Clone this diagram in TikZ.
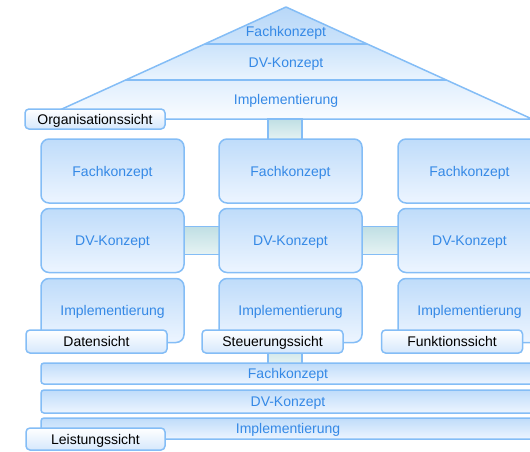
\documentclass[tikz,border=0pt]{standalone}
\usepackage{fontspec}
\setmainfont{Liberation Sans}
\usetikzlibrary{calc}

\definecolor{edge}{HTML}{84BDF6}
\definecolor{ink}{HTML}{3589E6}
\definecolor{boxtop}{HTML}{BFDCFA}
\definecolor{boxbot}{HTML}{EDF5FF}
\definecolor{labelbot}{HTML}{D6E8FC}
\definecolor{linktop}{HTML}{C0DFE4}
\definecolor{linkbot}{HTML}{E6F3F3}
\definecolor{rooftop}{HTML}{B9D8F8}
\definecolor{roofmid}{HTML}{CBE3FB}
\definecolor{roofmidb}{HTML}{EAF4FE}
\definecolor{rooflow}{HTML}{E0EEFD}
\definecolor{rooflowb}{HTML}{F9FCFF}

\tikzset{
  every node/.style={font=\fontsize{14}{16}\selectfont, text height=12pt, text depth=2pt},
  level/.style={draw=edge, line width=1.5pt, rounded corners=8pt,
    top color=boxtop, bottom color=boxbot, minimum width=143pt,
    minimum height=64pt, text=ink, inner sep=0pt},
  band/.style={draw=edge, line width=1.5pt, rounded corners=3pt,
    top color=boxtop, bottom color=boxbot, minimum width=494pt,
    text=ink, inner sep=0pt},
  viewlabel/.style={draw=edge, line width=1.5pt, rounded corners=4pt,
    top color=white, bottom color=labelbot, minimum width=141pt,
    minimum height=21pt, text=black, inner sep=0pt},
  link/.style={draw=edge, line width=1.2pt, top color=linktop, bottom color=linkbot},
  roofline/.style={draw=edge, line width=1.5pt},
  rooftext/.style={text=ink, inner sep=0pt},
  pin/.style={minimum size=0pt, inner sep=0pt, text height=0pt, text depth=0pt},
}

\begin{document}
\begin{tikzpicture}[x=1pt, y=-1pt]
\useasboundingbox (0,0) rectangle (530,452);
\clip (0,0) rectangle (530,452);

% ---- roof: Organisationssicht ----
\coordinate (apex) at (286,7);
\coordinate (bl) at (40,119);
\coordinate (br) at (532,119);
\coordinate (l1) at ($(apex)!0.3304!(bl)$);
\coordinate (r1) at ($(apex)!0.3304!(br)$);
\coordinate (l2) at ($(apex)!0.6518!(bl)$);
\coordinate (r2) at ($(apex)!0.6518!(br)$);
\coordinate (roofbase) at (285,119);

\shade[top color=rooftop, bottom color=roofmid] (apex) -- (r1) -- (l1) -- cycle;
\shade[top color=roofmid, bottom color=roofmidb] (l1) -- (r1) -- (r2) -- (l2) -- cycle;
\shade[top color=rooflow, bottom color=rooflowb] (l2) -- (r2) -- (br) -- (bl) -- cycle;
\draw[roofline, line join=round] (bl) -- (apex) -- (br) -- cycle;
\draw[roofline] (l1) -- (r1);
\draw[roofline] (l2) -- (r2);

\node[rooftext] (roofF) at (286,32) {Fachkonzept};
\node[rooftext] (roofD) at (286,62) {DV-Konzept};
\node[rooftext] (roofI) at (286,99) {Implementierung};

% ---- middle columns (node positions) ----
\path (112.5,171) coordinate (c1f) (112.5,240.5) coordinate (c1d) (112.5,310.5) coordinate (c1i)
      (290.5,171) coordinate (c2f) (290.5,240.5) coordinate (c2d) (290.5,310.5) coordinate (c2i)
      (469.5,171) coordinate (c3f) (469.5,240.5) coordinate (c3d) (469.5,310.5) coordinate (c3i);

% bottom bands: Leistungssicht
\path (288,373.5) coordinate (pbF) (288,401.5) coordinate (pbD) (288,428.5) coordinate (pbI);

% connectors drawn underneath the boxes
\node[pin] (f2top) at ($(c2f)+(0,-32)$) {};
\node[pin] (bandtop) at ($(pbF)+(0,-10.5)$) {};
\node[pin] (i2bot) at ($(c2i)+(0,32)$) {};
\path[link] ($(roofbase)+(-17,0)$) rectangle ($(f2top)+(11.5,1)$);
\path[link] ($(c1d)+(70,-14)$) rectangle ($(c2d)+(-70,14)$);
\path[link] ($(c2d)+(70,-14)$) rectangle ($(c3d)+(-70,14)$);
\path[link] ($(i2bot)+(-22.5,-1)$) rectangle ($(bandtop)+(14,1)$);

\node[level] (f1) at (c1f) {Fachkonzept};
\node[level] (d1) at (c1d) {DV-Konzept};
\node[level] (i1) at (c1i) {Implementierung};
\node[level] (f2) at (c2f) {Fachkonzept};
\node[level] (d2) at (c2d) {DV-Konzept};
\node[level] (i2) at (c2i) {Implementierung};
\node[level] (f3) at (c3f) {Fachkonzept};
\node[level] (d3) at (c3d) {DV-Konzept};
\node[level] (i3) at (c3i) {Implementierung};

\node[band, minimum height=21pt] (bF) at (pbF) {Fachkonzept};
\node[band, minimum height=23pt] (bD) at (pbD) {DV-Konzept};
\node[band, minimum height=21pt] (bI) at (pbI) {Implementierung};

% ---- view labels ----
\node[viewlabel, minimum width=140pt, minimum height=20pt] (org) at (95,119) {Organisationssicht};
\node[viewlabel, minimum height=23pt] (daten) at (96.5,341.5) {Datensicht};
\node[viewlabel, minimum height=23pt] (steuer) at (272.5,341.5) {Steuerungssicht};
\node[viewlabel, minimum height=23pt] (funk) at (452,341.5) {Funktionssicht};
\node[viewlabel, minimum width=139pt, minimum height=22pt] (leist) at (95.5,439) {Leistungssicht};
\end{tikzpicture}
\end{document}
